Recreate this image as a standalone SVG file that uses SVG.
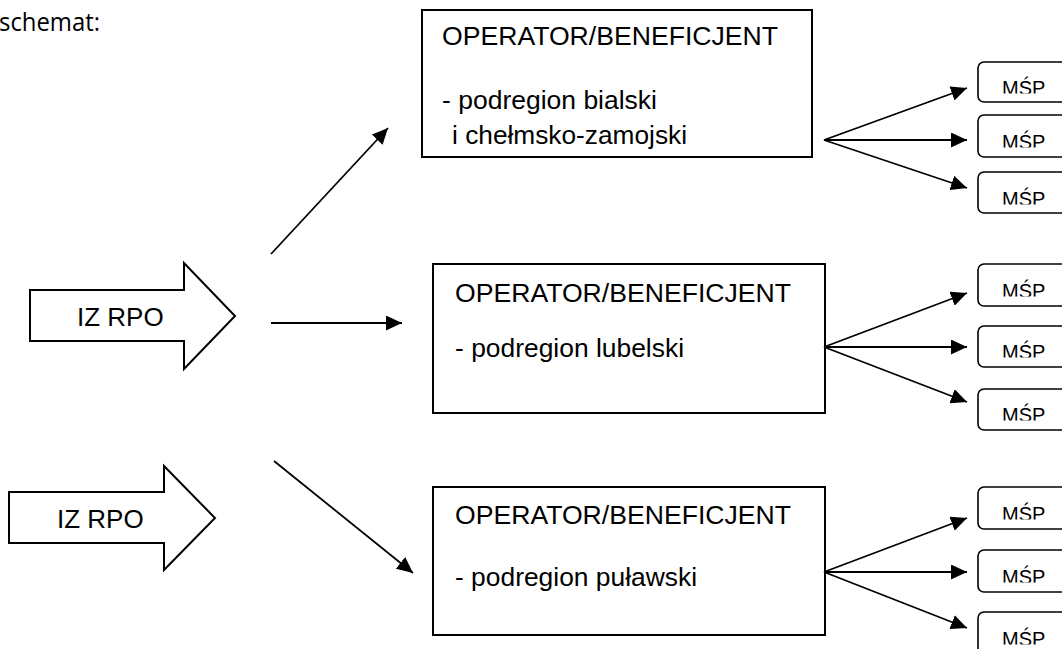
<svg xmlns="http://www.w3.org/2000/svg" width="1062" height="649" viewBox="0 0 1062 649">
<defs>
<marker id="ah" markerUnits="userSpaceOnUse" markerWidth="17" markerHeight="15" refX="16" refY="7.5" orient="auto">
<path d="M0,0 L16,7.5 L0,15 z" fill="#000"/>
</marker>
<clipPath id="cut" clipPathUnits="objectBoundingBox"><rect x="-0.1" y="-0.1" width="1.2" height="0.86"/></clipPath>
<style>
.box{fill:#fff;stroke:#000;stroke-width:2}
.msp{fill:#fff;stroke:#000;stroke-width:1.6}
.big{fill:#fff;stroke:#000;stroke-width:2;stroke-linejoin:miter}
.t{font-family:"Liberation Sans",Arial,sans-serif;fill:#000}
.op{font-size:26px}
.iz{font-size:26px}
.m{font-size:20px;clip-path:url(#cut)}
.c line{stroke:#000;stroke-width:1.8;marker-end:url(#ah)}
</style>
</defs>
<rect width="1062" height="649" fill="#fff"/>
<text x="-1" y="31" font-family="'Open Sans',sans-serif" font-size="25" textLength="101" lengthAdjust="spacingAndGlyphs">schemat:</text>

<g id="iz1">
<polygon class="big" points="30,290 184,290 184,263 235,316 184,369 184,341 30,341"/>
<text class="t iz" x="77" y="326">IZ RPO</text>
</g>
<g id="iz2">
<polygon class="big" points="9,492 164,492 164,466 215,518 164,570 164,543 9,543"/>
<text class="t iz" x="57" y="528">IZ RPO</text>
</g>

<g id="op1">
<rect class="box" x="422" y="10" width="390" height="147"/>
<text class="t op" x="442" y="45" textLength="336" lengthAdjust="spacingAndGlyphs">OPERATOR/BENEFICJENT</text>
<text class="t op" x="442" y="109" textLength="215" lengthAdjust="spacingAndGlyphs">- podregion bialski</text>
<text class="t op" x="452" y="144" textLength="235" lengthAdjust="spacingAndGlyphs">i chełmsko-zamojski</text>
</g>
<g id="op2">
<rect class="box" x="433" y="264" width="392" height="149"/>
<text class="t op" x="455" y="302" textLength="336" lengthAdjust="spacingAndGlyphs">OPERATOR/BENEFICJENT</text>
<text class="t op" x="455" y="357" textLength="229" lengthAdjust="spacingAndGlyphs">- podregion lubelski</text>
</g>
<g id="op3">
<rect class="box" x="433" y="487" width="392" height="148"/>
<text class="t op" x="455" y="524" textLength="336" lengthAdjust="spacingAndGlyphs">OPERATOR/BENEFICJENT</text>
<text class="t op" x="455" y="586" textLength="242" lengthAdjust="spacingAndGlyphs">- podregion puławski</text>
</g>

<g id="msp1a"><rect class="msp" x="978" y="62" width="100" height="40" rx="6"/><text class="t m" x="1002" y="95">MŚP</text></g>
<g id="msp1b"><rect class="msp" x="978" y="115" width="100" height="42" rx="6"/><text class="t m" x="1002" y="149">MŚP</text></g>
<g id="msp1c"><rect class="msp" x="978" y="172" width="100" height="41" rx="6"/><text class="t m" x="1002" y="206">MŚP</text></g>
<g id="msp2a"><rect class="msp" x="978" y="264" width="100" height="42" rx="6"/><text class="t m" x="1002" y="298">MŚP</text></g>
<g id="msp2b"><rect class="msp" x="978" y="326" width="100" height="41" rx="6"/><text class="t m" x="1002" y="359">MŚP</text></g>
<g id="msp2c"><rect class="msp" x="978" y="389" width="100" height="41" rx="6"/><text class="t m" x="1002" y="422">MŚP</text></g>
<g id="msp3a"><rect class="msp" x="978" y="487" width="100" height="42" rx="6"/><text class="t m" x="1002" y="521">MŚP</text></g>
<g id="msp3b"><rect class="msp" x="978" y="550" width="100" height="42" rx="6"/><text class="t m" x="1002" y="584">MŚP</text></g>
<g id="msp3c"><rect class="msp" x="978" y="612" width="100" height="60" rx="6"/><text class="t m" x="1002" y="646">MŚP</text></g>

<g id="connectors" class="c">
<line x1="271" y1="254" x2="388" y2="128"/>
<line x1="271" y1="323" x2="402" y2="323"/>
<line x1="274" y1="461" x2="413" y2="573"/>
<line x1="824" y1="140" x2="967" y2="88"/>
<line x1="824" y1="140" x2="967" y2="140"/>
<line x1="824" y1="140" x2="967" y2="188"/>
<line x1="824" y1="347" x2="967" y2="293"/>
<line x1="824" y1="347" x2="967" y2="347"/>
<line x1="824" y1="347" x2="967" y2="402"/>
<line x1="824" y1="572" x2="967" y2="518"/>
<line x1="824" y1="572" x2="967" y2="572"/>
<line x1="824" y1="572" x2="967" y2="628"/>
</g>
</svg>
